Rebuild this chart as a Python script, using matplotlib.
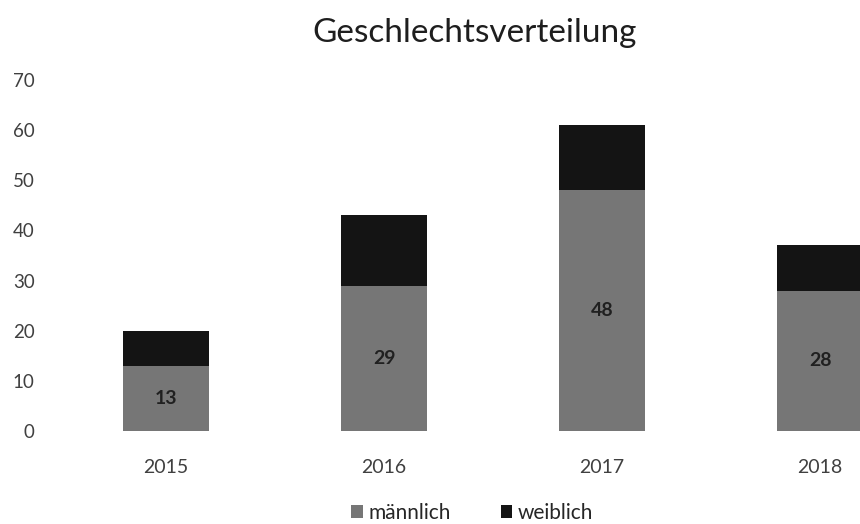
import matplotlib
matplotlib.use("Agg")
import matplotlib.pyplot as plt
import numpy as np
from matplotlib.patches import Patch

years = ["2015", "2016", "2017", "2018"]
maennlich = [13, 29, 48, 28]
weiblich = [7, 14, 13, 9]
y_ticks = [0, 10, 20, 30, 40, 50, 60, 70]
title = "Geschlechtsverteilung"
series_names = ["männlich", "weiblich"]

plt.rcParams['font.family'] = ['Lato', 'DejaVu Sans']

c_m = '#767676'
c_w = '#141414'

fig = plt.figure(figsize=(8.6, 5.24), dpi=100)
ax = fig.add_axes([57/860, (524-431)/524, 872/860, (431-80)/524])

x = np.arange(len(years))
w = 0.395
ax.bar(x, maennlich, width=w, color=c_m)
ax.bar(x, weiblich, width=w, bottom=maennlich, color=c_w)

for xi, v in zip(x, maennlich):
    ax.text(xi, v / 2, str(v), ha='center', va='center', fontsize=14,
            fontweight='bold', color='#202020')

ax.set_xlim(-0.5, 3.5)
ax.set_ylim(0, 70)
ax.set_yticks(y_ticks)
ax.set_yticklabels([str(t) for t in y_ticks], fontsize=13.5, color='#404040')
ax.set_xticks(x)
ax.set_xticklabels(years, fontsize=14, color='#404040')
ax.tick_params(axis='both', length=0)
ax.tick_params(axis='x', pad=20)
ax.tick_params(axis='y', pad=16)
for s in ax.spines.values():
    s.set_visible(False)

fig.text(475/860, 1 - 33/524, title, ha='center', va='center', fontsize=24, color='#1e1e1e')

handles = [Patch(facecolor=c_m), Patch(facecolor=c_w)]
fig.legend(handles, series_names, loc='center', bbox_to_anchor=(472/860, 1 - 513/524),
           ncol=2, frameon=False, fontsize=15, handlelength=0.55, handleheight=0.55,
           handletextpad=0.25, columnspacing=2.4, labelcolor='#262626')

fig.savefig('out.png', dpi=100)
